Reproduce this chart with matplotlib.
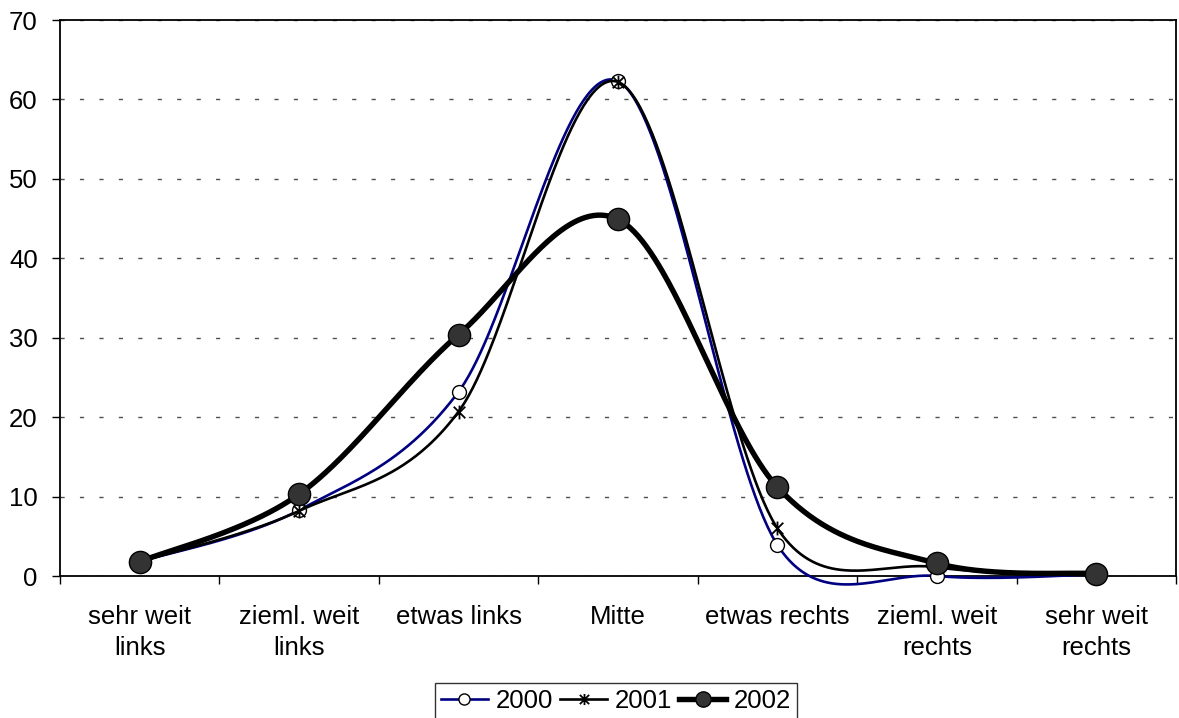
import numpy as np
import matplotlib
matplotlib.use("Agg")
import matplotlib.pyplot as plt
from matplotlib.path import Path
from matplotlib.lines import Line2D

plt.rcParams['font.family'] = ['Liberation Sans', 'DejaVu Sans']

categories = ["sehr weit\nlinks", "zieml. weit\nlinks", "etwas links", "Mitte",
              "etwas rechts", "zieml. weit\nrechts", "sehr weit\nrechts"]
series_names = ["2000", "2001", "2002"]
v2000 = [1.8, 8.3, 23.2, 62.3, 3.9, 0.0, 0.2]
v2001 = [1.8, 8.2, 20.7, 62.2, 6.0, 1.1, 0.2]
v2002 = [1.8, 10.3, 30.4, 44.9, 11.2, 1.6, 0.3]
yticks = [0, 10, 20, 30, 40, 50, 60, 70]

W, H = 1179, 718
FS = 18.5
fig = plt.figure(figsize=(W / 100, H / 100), dpi=100)
ax = fig.add_axes([60 / W, (H - 576) / H, (1176 - 60) / W, (576 - 20) / H])
ax.set_xlim(-0.5, len(categories) - 0.5)
ax.set_ylim(0, 70)


def excel_smooth(xs, ys, n=80):
    pts = ax.transData.transform(np.column_stack([xs, ys]))
    N = len(pts)
    out = []
    for i in range(N - 1):
        p0 = pts[i - 1] if i > 0 else pts[i]
        p1 = pts[i]
        p2 = pts[i + 1]
        p3 = pts[i + 2] if i + 2 < N else pts[i + 1]
        d02 = np.hypot(*(p2 - p0))
        d12 = np.hypot(*(p2 - p1))
        d13 = np.hypot(*(p3 - p1))
        f1 = 1 / 6 if d02 / 6 < d12 / 2 else (d12 / 2) / d02
        f2 = 1 / 6 if d13 / 6 < d12 / 2 else (d12 / 2) / d13
        c1 = p1 + f1 * (p2 - p0)
        c2 = p2 - f2 * (p3 - p1)
        t = np.linspace(0, 1, n)[:, None]
        seg = (1 - t) ** 3 * p1 + 3 * (1 - t) ** 2 * t * c1 + 3 * (1 - t) * t ** 2 * c2 + t ** 3 * p2
        out.append(seg if i == 0 else seg[1:])
    disp = np.vstack(out)
    return ax.transData.inverted().transform(disp)


star = Path([(-1, -1), (1, 1), (-1, 1), (1, -1), (0, -1.2), (0, 1.2)],
            [Path.MOVETO, Path.LINETO, Path.MOVETO, Path.LINETO, Path.MOVETO, Path.LINETO])

styles = [
    dict(color="#000080", lw=1.9, marker="o", ms=10, mfc="white", mec="black", mew=1.0),
    dict(color="black", lw=1.9, marker=star, ms=10, mfc="none", mec="black", mew=1.3),
    dict(color="black", lw=3.9, marker="o", ms=16, mfc="#333333", mec="black", mew=1.0),
]
leg_ms = [8, 8, 11]

x = np.arange(len(categories))
handles = []
for k, (vals, st) in enumerate(zip([v2000, v2001, v2002], styles)):
    curve = excel_smooth(x, vals)
    ax.plot(curve[:, 0], curve[:, 1], color=st["color"], lw=st["lw"], zorder=3 + 2 * k,
            solid_capstyle="round", clip_on=False)
    ax.plot(x, vals, linestyle="none", marker=st["marker"], ms=st["ms"], mfc=st["mfc"],
            mec=st["mec"], mew=st["mew"], zorder=4 + 2 * k, clip_on=False)
    handles.append(Line2D([], [], color=st["color"], lw=st["lw"], marker=st["marker"],
                          ms=leg_ms[k], mfc=st["mfc"], mec=st["mec"], mew=st["mew"]))

# axes styling
for s in ax.spines.values():
    s.set_linewidth(1.3)
    s.set_color("black")
ax.set_yticks(yticks)
ax.set_yticklabels([str(v) for v in yticks])
ax.yaxis.grid(True, color="#505050", lw=1.0, linestyle=(0, (3, 11)))
ax.set_axisbelow(True)
ax.tick_params(axis="y", direction="out", length=6, width=1, pad=10, labelsize=FS)
ax.set_xticks(np.arange(-0.5, len(categories), 1.0))
ax.set_xticklabels([])
ax.set_xticks(x, minor=True)
ax.set_xticklabels(categories, minor=True)
for lab in ax.get_xticklabels(minor=True):
    lab.set_linespacing(1.35)
ax.tick_params(axis="x", which="major", direction="out", length=6, width=1)
ax.tick_params(axis="x", which="minor", length=0, pad=21, labelsize=FS)

leg = fig.legend(handles, series_names, loc="upper center",
                 bbox_to_anchor=(616 / W, (H - 683) / H), ncol=3, frameon=True,
                 fontsize=FS, handlelength=1.8, handletextpad=0.3, columnspacing=0.3,
                 borderpad=0.25, borderaxespad=0.0, fancybox=False)
leg.get_frame().set_edgecolor("black")
leg.get_frame().set_linewidth(1.0)

fig.savefig("out.png", dpi=100)
